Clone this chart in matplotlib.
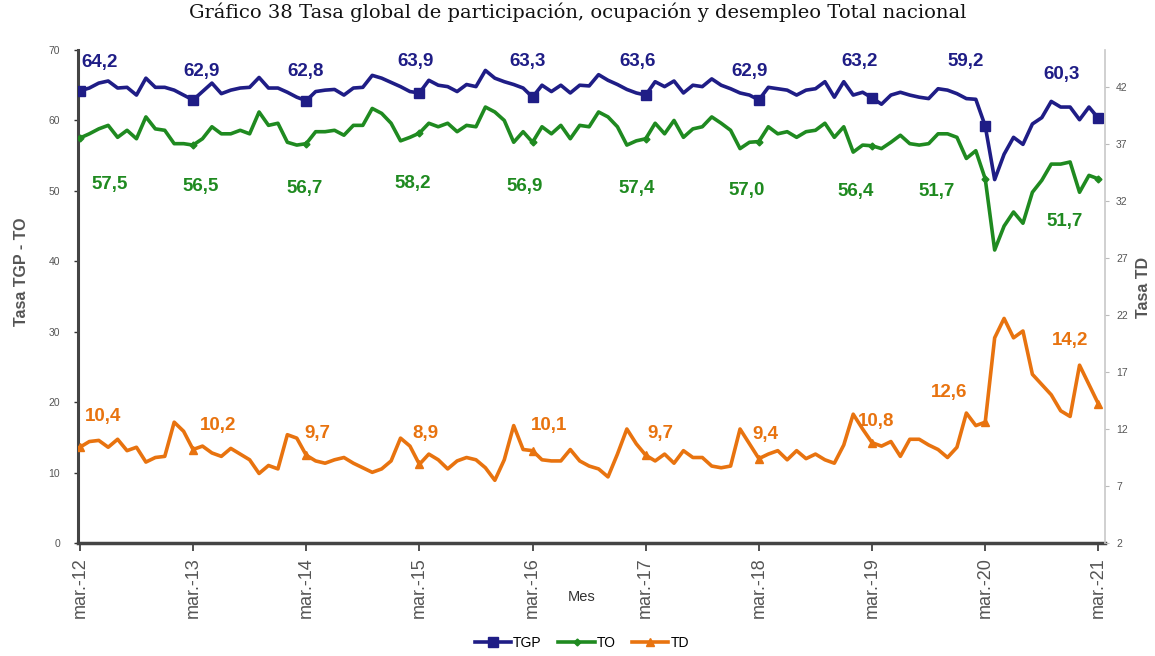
import matplotlib
matplotlib.use("Agg")
import matplotlib.pyplot as plt
import numpy as np

# etiquetas del eje x (cada marzo)
meses = ["mar.-12", "mar.-13", "mar.-14", "mar.-15", "mar.-16",
         "mar.-17", "mar.-18", "mar.-19", "mar.-20", "mar.-21"]

# series mensuales mar-12 .. mar-21
tgp = [64.2, 64.6, 65.3, 65.6, 64.6, 64.7, 63.6, 66.0, 64.7, 64.7, 64.3, 63.6,
       62.9, 64.1, 65.3, 63.8, 64.3, 64.6, 64.7, 66.1, 64.6, 64.6, 64.0, 63.3,
       62.8, 64.1, 64.3, 64.4, 63.6, 64.6, 64.7, 66.4, 66.0, 65.4, 64.8, 64.1,
       63.9, 65.7, 65.0, 64.8, 64.1, 65.1, 64.8, 67.1, 66.0, 65.5, 65.1, 64.6,
       63.3, 65.0, 64.1, 65.0, 63.9, 65.0, 64.9, 66.5, 65.7, 65.1, 64.4, 63.9,
       63.6, 65.5, 64.8, 65.6, 63.9, 65.0, 64.8, 65.9, 65.0, 64.5, 63.9, 63.6,
       62.9, 64.7, 64.5, 64.3, 63.6, 64.3, 64.5, 65.5, 63.3, 65.5, 63.6, 64.0,
       63.2, 62.3, 63.6, 64.0, 63.6, 63.3, 63.1, 64.5, 64.3, 63.8, 63.1, 63.0,
       59.2, 51.6, 55.2, 57.6, 56.6, 59.5, 60.4, 62.7, 61.9, 61.9, 60.1, 61.9, 60.3]

to = [57.5, 58.1, 58.8, 59.3, 57.6, 58.6, 57.4, 60.5, 58.8, 58.6, 56.7, 56.7,
      56.5, 57.4, 59.1, 58.1, 58.1, 58.6, 58.1, 61.2, 59.3, 59.6, 56.9, 56.5,
      56.7, 58.4, 58.4, 58.6, 57.9, 59.3, 59.3, 61.7, 61.0, 59.6, 57.1, 57.6,
      58.2, 59.6, 59.1, 59.6, 58.4, 59.3, 59.1, 61.9, 61.2, 60.0, 56.9, 58.4,
      56.9, 59.1, 58.1, 59.3, 57.4, 59.3, 59.1, 61.2, 60.5, 59.1, 56.5, 57.1,
      57.4, 59.6, 58.1, 60.0, 57.6, 58.8, 59.1, 60.5, 59.6, 58.6, 56.0, 56.9,
      57.0, 59.1, 58.1, 58.4, 57.6, 58.4, 58.6, 59.6, 57.6, 59.1, 55.5, 56.5,
      56.4, 56.0, 56.9, 57.9, 56.7, 56.5, 56.7, 58.1, 58.1, 57.6, 54.6, 55.7,
      51.7, 41.6, 45.0, 47.0, 45.4, 49.8, 51.5, 53.8, 53.8, 54.1, 49.8, 52.2, 51.7]

td = [10.4, 10.9, 11.0, 10.4, 11.1, 10.1, 10.4, 9.1, 9.5, 9.6, 12.6, 11.8,
      10.2, 10.5, 9.9, 9.6, 10.3, 9.8, 9.3, 8.1, 8.8, 8.5, 11.5, 11.2,
      9.7, 9.2, 9.0, 9.3, 9.5, 9.0, 8.6, 8.2, 8.5, 9.2, 11.2, 10.5,
      8.9, 9.8, 9.3, 8.5, 9.2, 9.5, 9.3, 8.6, 7.5, 9.3, 12.3, 10.2,
      10.1, 9.3, 9.2, 9.2, 10.2, 9.2, 8.75, 8.5, 7.8, 9.8, 12.0, 10.7,
      9.7, 9.2, 9.8, 9.0, 10.1, 9.5, 9.5, 8.75, 8.6, 8.75, 12.0, 10.7,
      9.4, 9.8, 10.1, 9.3, 10.1, 9.4, 9.8, 9.3, 9.0, 10.6, 13.3, 12.0,
      10.8, 10.5, 10.9, 9.6, 11.1, 11.1, 10.6, 10.2, 9.5, 10.4, 13.4, 12.3,
      12.6, 20.0, 21.7, 20.0, 20.6, 16.8, 15.9, 15.0, 13.6, 13.1, 17.6, 15.9, 14.2]

# posición de las etiquetas de datos (mes, valor en su eje)
tgp_lab_x = [2.1, 12.9, 23.9, 35.6, 47.5, 59.1, 71.0, 82.7, 93.9, 104.1]
tgp_lab_y = [68.2, 67.0, 67.0, 68.3, 68.3, 68.3, 66.9, 68.3, 68.3, 66.5]
to_lab_x = [3.2, 12.8, 23.8, 35.3, 47.2, 59.0, 70.7, 82.3, 90.8, 104.4]
to_lab_y = [50.9, 50.6, 50.3, 51.0, 50.6, 50.3, 50.0, 49.9, 49.9, 45.6]
td_lab_x = [2.5, 14.6, 25.2, 36.6, 49.7, 61.6, 72.7, 84.4, 92.2, 105.0]
td_lab_y = [13.1, 12.3, 11.6, 11.6, 12.3, 11.6, 11.5, 12.7, 15.2, 19.8]

C_TGP = "#1f1d86"
C_TO = "#1f8a20"
C_TD = "#e8730f"
GRIS = "#555555"
SANS = ["Liberation Sans", "DejaVu Sans"]

fig = plt.figure(figsize=(11.55, 6.56), dpi=100)
ax = fig.add_axes([78 / 1155, 1 - 543 / 656, (1105 - 78) / 1155, 493 / 656])
ax2 = ax.twinx()

x = np.arange(len(tgp))
ax.plot(x, tgp, color=C_TGP, lw=2.6, marker="s", ms=6.5, markevery=12, label="TGP", zorder=3)
ax.plot(x, to, color=C_TO, lw=2.6, marker="D", ms=3.5, markevery=12, label="TO", zorder=3)
ax2.plot(x, td, color=C_TD, lw=2.6, marker="^", ms=6, markevery=12, label="TD", zorder=3)

fmt = lambda v: f"{v:.1f}".replace(".", ",")
for i in range(len(meses)):
    ax.text(tgp_lab_x[i], tgp_lab_y[i], fmt(tgp[i * 12]), color=C_TGP, fontsize=13.5,
            fontweight="bold", family=SANS, ha="center", va="center")
    ax.text(to_lab_x[i], to_lab_y[i], fmt(to[i * 12]), color=C_TO, fontsize=13.5,
            fontweight="bold", family=SANS, ha="center", va="center")
    ax2.text(td_lab_x[i], td_lab_y[i], fmt(td[i * 12]), color=C_TD, fontsize=13.5,
             fontweight="bold", family=SANS, ha="center", va="center")

ax.set_xlim(-0.2, 108.7)
ax.set_ylim(0, 70)
ax2.set_ylim(2, 45.25)

ax.set_xticks(np.arange(0, 109, 12))
ax.set_xticklabels(meses, rotation=90, fontsize=13, color=GRIS, family=SANS)
ax.set_yticks(np.arange(0, 71, 10))
ax.set_yticklabels([str(v) for v in range(0, 71, 10)], fontsize=7.5, color=GRIS, family=SANS)
ax2.set_yticks(np.arange(2, 43, 5))
ax2.set_yticklabels([str(v) for v in range(2, 43, 5)], fontsize=7.5, color=GRIS, family=SANS)

ax.tick_params(axis="x", length=6, width=1.2, color="#333333", pad=4)
ax.tick_params(axis="y", length=3, width=1, color="#333333", pad=10)
ax2.tick_params(axis="y", length=3, width=0.8, color="#bbbbbb", pad=5)

for a in (ax, ax2):
    a.spines["top"].set_visible(False)
ax.spines["right"].set_visible(False)
ax2.spines["left"].set_visible(False)
ax2.spines["bottom"].set_visible(False)
ax.spines["left"].set_color("#444444")
ax.spines["left"].set_linewidth(2.2)
ax.spines["bottom"].set_color("#444444")
ax.spines["bottom"].set_linewidth(2.5)
ax2.spines["right"].set_color("#c8c8c8")
ax2.spines["right"].set_linewidth(1.2)

ax.set_ylabel("Tasa TGP - TO", fontsize=11.5, fontweight="bold", color=GRIS, family=SANS)
ax.yaxis.set_label_coords(-0.048, 0.55)
fig.text(1143 / 1155, 1 - 287 / 656, "Tasa TD", rotation=90, ha="center", va="center",
         fontsize=11.5, fontweight="bold", color=GRIS, family=SANS)
ax.set_xlabel("Mes", fontsize=10.5, color="#333333", family=SANS)
ax.xaxis.set_label_coords(0.49, -0.095)

fig.text(0.5, 0.996, "Gráfico 38 Tasa global de participación, ocupación y desempleo Total nacional",
         ha="center", va="top", fontsize=14, family=["DejaVu Serif"], color="#111111")

h1, l1 = ax.get_legend_handles_labels()
h2, l2 = ax2.get_legend_handles_labels()
fig.legend(h1 + h2, l1 + l2, loc="center", bbox_to_anchor=(582 / 1155, 1 - 643 / 656),
           ncol=3, frameon=False, handlelength=2.6, handletextpad=0.15,
           columnspacing=1.2, prop={"family": SANS, "size": 10})

fig.savefig("out.png", dpi=100)
